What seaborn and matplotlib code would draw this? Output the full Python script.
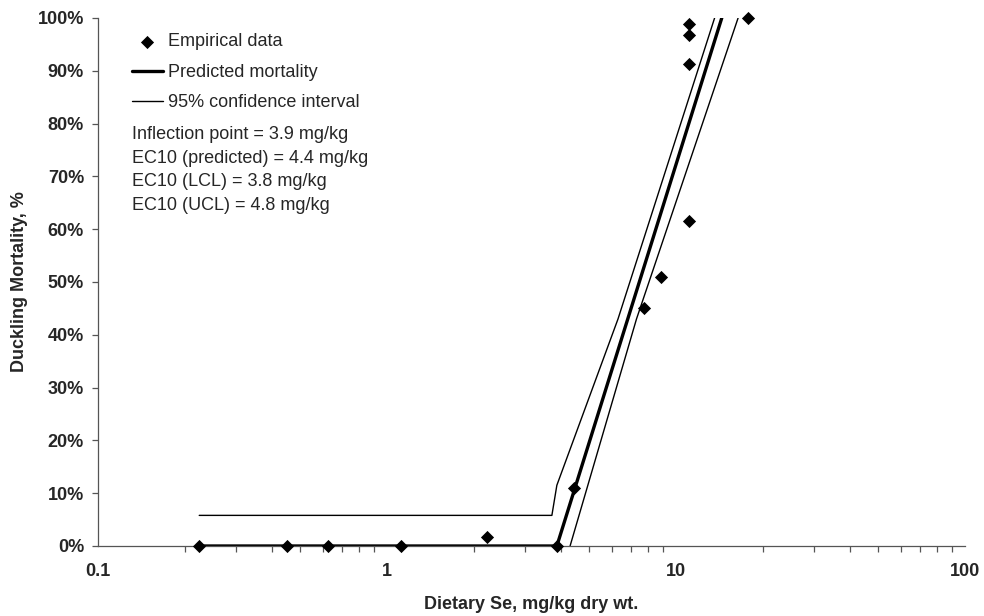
import seaborn as sns
import matplotlib.pyplot as plt
import matplotlib.ticker as mticker
import pandas as pd

# empirical data (dietary Se mg/kg, mortality %)
emp_se = [0.224, 0.45, 0.625, 1.115, 2.22, 3.88, 4.44, 7.76, 8.87, 11.1, 11.1, 11.1, 11.1, 17.7]
emp_mort = [0, 0, 0, 0, 1.7, 0, 11.0, 45.1, 51.0, 61.6, 91.3, 96.8, 98.9, 100]

# predicted hockey-stick curve
pred_se = [0.224, 3.87, 14.4]
pred_mort = [0, 0, 100]

# 95% confidence limits
ucl_se = [0.224, 3.72, 3.87, 6.3, 13.6]
ucl_mort = [5.8, 5.8, 11.5, 43, 100]
lcl_se = [4.3, 7.3, 16.4]
lcl_mort = [0, 43, 100]

stats_text = ("Inflection point = 3.9 mg/kg\n"
              "EC10 (predicted) = 4.4 mg/kg\n"
              "EC10 (LCL) = 3.8 mg/kg\n"
              "EC10 (UCL) = 4.8 mg/kg")

sns.set_style("white")
plt.rcParams['font.family'] = ['Liberation Sans', 'DejaVu Sans']

fig = plt.figure(figsize=(9.84, 6.16), dpi=100)
ax = fig.add_axes([98 / 984, 70 / 616, 867 / 984, 528 / 616])

emp = pd.DataFrame({'se': emp_se, 'mort': emp_mort})
pred = pd.DataFrame({'se': pred_se, 'mort': pred_mort})
ucl = pd.DataFrame({'se': ucl_se, 'mort': ucl_mort})
lcl = pd.DataFrame({'se': lcl_se, 'mort': lcl_mort})

sns.lineplot(x='se', y='mort', data=ucl, color='black', linewidth=1.0,
             sort=False, estimator=None, label='95% confidence interval', ax=ax)
sns.lineplot(x='se', y='mort', data=lcl, color='black', linewidth=1.0,
             sort=False, estimator=None, ax=ax)
sns.lineplot(x='se', y='mort', data=pred, color='black', linewidth=2.4,
             sort=False, estimator=None, label='Predicted mortality', ax=ax)
sns.scatterplot(x='se', y='mort', data=emp, color='black', marker='D', s=45,
                linewidth=0, label='Empirical data', ax=ax, zorder=5,
                clip_on=False)

ax.set_xscale('log')
ax.set_xlim(0.1, 100)
ax.set_ylim(0, 100)

# axes styling
for side in ['top', 'right']:
    ax.spines[side].set_visible(False)
for side in ['left', 'bottom']:
    ax.spines[side].set_color('#555555')
    ax.spines[side].set_linewidth(0.9)

ax.xaxis.set_major_locator(mticker.FixedLocator([0.1, 1, 10, 100]))
ax.xaxis.set_major_formatter(mticker.FuncFormatter(lambda v, p: '%g' % v))
ax.xaxis.set_minor_locator(mticker.LogLocator(base=10, subs=range(2, 10)))
ax.xaxis.set_minor_formatter(mticker.NullFormatter())
ax.yaxis.set_major_locator(mticker.MultipleLocator(10))
ax.yaxis.set_major_formatter(mticker.FuncFormatter(lambda v, p: '%d%%' % v))

ax.tick_params(axis='both', which='both', direction='out', color='#555555', width=0.9)
ax.tick_params(axis='x', which='major', length=4, pad=8, labelsize=13)
ax.tick_params(axis='x', which='minor', length=4, bottom=True)
ax.tick_params(axis='y', which='major', length=4, pad=6, labelsize=13, left=True)
for lab in ax.get_xticklabels() + ax.get_yticklabels():
    lab.set_fontweight('bold')

ax.set_xlabel('Dietary Se, mg/kg dry wt.', fontsize=13, fontweight='bold')
ax.set_ylabel('Duckling Mortality, %', fontsize=13, fontweight='bold')
ax.xaxis.set_label_coords(0.5, -0.11)
ax.xaxis.label.set_verticalalignment('center')
ax.yaxis.set_label_coords(-0.09, 0.5)
ax.yaxis.label.set_verticalalignment('center')

# legend in the requested order
handles, labels = ax.get_legend_handles_labels()
order = ['Empirical data', 'Predicted mortality', '95% confidence interval']
hmap = dict(zip(labels, handles))
ax.legend([hmap[k] for k in order], order, loc='upper left',
          bbox_to_anchor=(0.039, 0.971), frameon=False, fontsize=13,
          handlelength=1.7, handletextpad=0.3, borderaxespad=0, borderpad=0,
          labelspacing=0.75)

ax.text(0.039, 0.795, stats_text, transform=ax.transAxes, va='top', ha='left',
        fontsize=13, linespacing=1.5)

fig.savefig('out.png', dpi=100)
